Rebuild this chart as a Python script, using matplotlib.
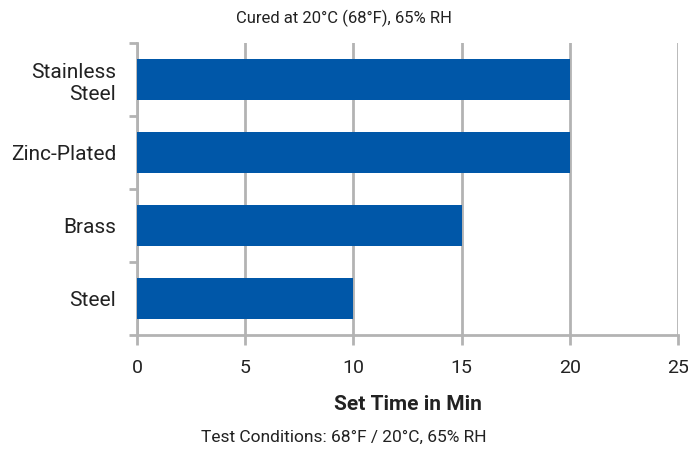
import numpy as np
import matplotlib.pyplot as plt
from matplotlib.ticker import FixedLocator

# data
materials = ["Steel", "Brass", "Zinc-Plated", "Stainless\nSteel"]
set_times = [10, 15, 20, 20]
x_ticks = [0, 5, 10, 15, 20, 25]

bar_color = "#0057a8"
grid_color = "#b3b3b3"
text_color = "#222222"

plt.rcParams['font.family'] = ['Roboto', 'DejaVu Sans']

fig = plt.figure(figsize=(6.88, 4.49), dpi=100)
ax = fig.add_axes([0.1991, 0.2539, 0.7864, 0.6503])

y = np.arange(len(materials))
ax.barh(y, set_times, height=0.55, color=bar_color, zorder=3)

ax.set_xlim(0, 25)
ax.set_ylim(-0.5, len(materials) - 0.5)
ax.set_xticks(x_ticks)
ax.set_xticklabels([str(t) for t in x_ticks], fontsize=14, color=text_color)
ax.set_yticks(y)
ax.set_yticklabels(materials, fontsize=15, color=text_color, linespacing=1.2)
ax.yaxis.set_minor_locator(FixedLocator(np.arange(-0.5, len(materials), 1.0)))

ax.tick_params(axis='y', which='major', length=0, pad=15)
ax.tick_params(axis='y', which='minor', length=6, width=2, color=grid_color)
ax.tick_params(axis='x', length=7, width=2, color=grid_color, pad=10)

ax.xaxis.grid(True, color=grid_color, linewidth=2, zorder=0)
for side in ['top', 'right']:
    ax.spines[side].set_visible(False)
for side in ['left', 'bottom']:
    ax.spines[side].set_color(grid_color)
    ax.spines[side].set_linewidth(2)

ax.set_xlabel("Set Time in Min", fontsize=15, fontweight='bold',
              color=text_color, labelpad=13)
fig.text(0.5, 0.96, "Cured at 20°C (68°F), 65% RH", ha='center', va='center',
         fontsize=12, color=text_color)
fig.text(0.5, 0.027, "Test Conditions: 68°F / 20°C, 65% RH", ha='center',
         va='center', fontsize=12.5, color=text_color)

fig.savefig("out.png", dpi=100)
